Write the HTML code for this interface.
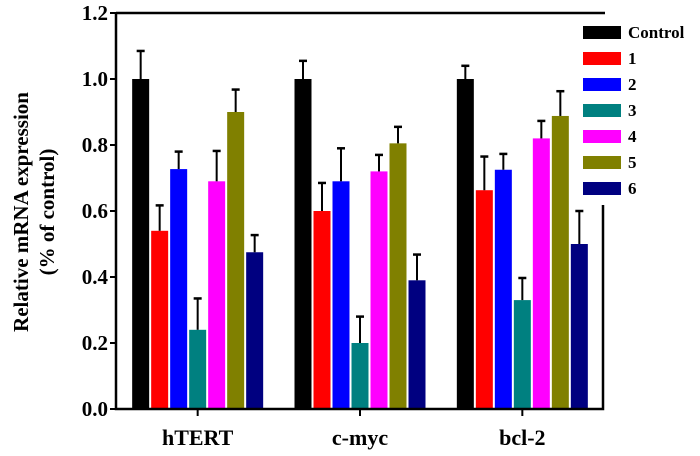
<!DOCTYPE html>
<html><head><meta charset="utf-8"><style>
body{margin:0;background:#fff}
svg text{font-family:"Liberation Serif",serif;font-weight:bold;fill:#000}
</style></head><body>
<svg id="chart" width="700" height="451" viewBox="0 0 700 451" xmlns="http://www.w3.org/2000/svg"></svg>
<script>
const categories = ["hTERT", "c-myc", "bcl-2"];
const seriesNames = ["Control", "1", "2", "3", "4", "5", "6"];
const seriesColors = ["#000000", "#ff0000", "#0000ff", "#008080", "#ff00ff", "#808000", "#000080"];
const valsHTERT = [1.0, 0.54, 0.727, 0.24, 0.69, 0.90, 0.475];
const valsCMYC = [1.0, 0.60, 0.69, 0.20, 0.72, 0.805, 0.39];
const valsBCL2 = [1.0, 0.663, 0.725, 0.33, 0.82, 0.888, 0.50];
const errHTERT = [0.085, 0.077, 0.053, 0.095, 0.092, 0.068, 0.052];
const errCMYC = [0.055, 0.085, 0.10, 0.08, 0.05, 0.05, 0.078];
const errBCL2 = [0.04, 0.102, 0.048, 0.067, 0.053, 0.075, 0.10];
const yTicks = ["0.0", "0.2", "0.4", "0.6", "0.8", "1.0", "1.2"];

const values = [valsHTERT, valsCMYC, valsBCL2];
const errors = [errHTERT, errCMYC, errBCL2];
const svg = document.getElementById('chart');
const NS = "http://www.w3.org/2000/svg";
const X0 = 116, X1 = 603, Y0 = 409, Y1 = 13, YMAX = 1.2;
const y = v => Y0 - (v / YMAX) * (Y0 - Y1);
const groupW = (X1 - X0) / 3;
const cx = i => X0 + groupW * (i + 0.5) + 0.5;
const barStep = 19, barW = 17;
function mk(tag, attrs, parent) {
  const e = document.createElementNS(NS, tag);
  for (const k in attrs) e.setAttribute(k, attrs[k]);
  (parent || svg).appendChild(e);
  return e;
}
values.forEach((arr, gi) => {
  const g = mk('g', {});
  
  
  arr.forEach((v, si) => {
    const left = cx(gi) - (seriesNames.length * barStep - 2) / 2 + si * barStep;
    const r = mk('rect', {x: left, y: y(v), width: barW, height: Y0 - y(v), fill: seriesColors[si]}, g);
    
    
    const mx = left + barW / 2;
    const top = y(v + errors[gi][si]);
    const l = mk('line', {x1: mx, x2: mx, y1: y(v), y2: top, stroke: '#000', 'stroke-width': 2}, g);
    
    
    const c = mk('line', {x1: mx - 4, x2: mx + 4, y1: top, y2: top, stroke: '#000', 'stroke-width': 2.5}, g);
    
    
  });
});
const ax = mk('path', {d: `M${X0},${Y1} V${Y0} H${X1} V205 M${X0},${Y1} H${X1+2}`, fill: 'none', stroke: '#000', 'stroke-width': 2.5});


yTicks.forEach((t, i) => {
  const v = parseFloat(t);
  const tk = mk('line', {x1: X0 - 6, x2: X0, y1: y(v), y2: y(v), stroke: '#000', 'stroke-width': 2});
  
  
  const tx = mk('text', {x: X0 - 8, y: y(v) + 7, 'text-anchor': 'end', 'font-size': 21});
  tx.textContent = t;
  
  
});
categories.forEach((c, i) => {
  const tk = mk('line', {x1: cx(i), x2: cx(i), y1: Y0, y2: Y0 + 7, stroke: '#000', 'stroke-width': 2});
  
  
  const tx = mk('text', {x: cx(i), y: 445, 'text-anchor': 'middle', 'font-size': 22});
  tx.textContent = c;
  
  
});
const yt = mk('text', {transform: 'translate(28,212) rotate(-90)', 'text-anchor': 'middle', 'font-size': 21});
yt.textContent = 'Relative mRNA expression';


const yt2 = mk('text', {transform: 'translate(54,212) rotate(-90)', 'text-anchor': 'middle', 'font-size': 21});
yt2.textContent = '(% of control)';


seriesNames.forEach((n, i) => {
  const cy = 32 + i * 26;
  const g = mk('g', {});
  
  
  mk('rect', {x: 583, y: cy - 6, width: 38, height: 13, fill: seriesColors[i]}, g);
  const t = mk('text', {x: 628, y: cy + 6, 'font-size': 17}, g);
  t.textContent = n;
});
</script>
</body></html>
